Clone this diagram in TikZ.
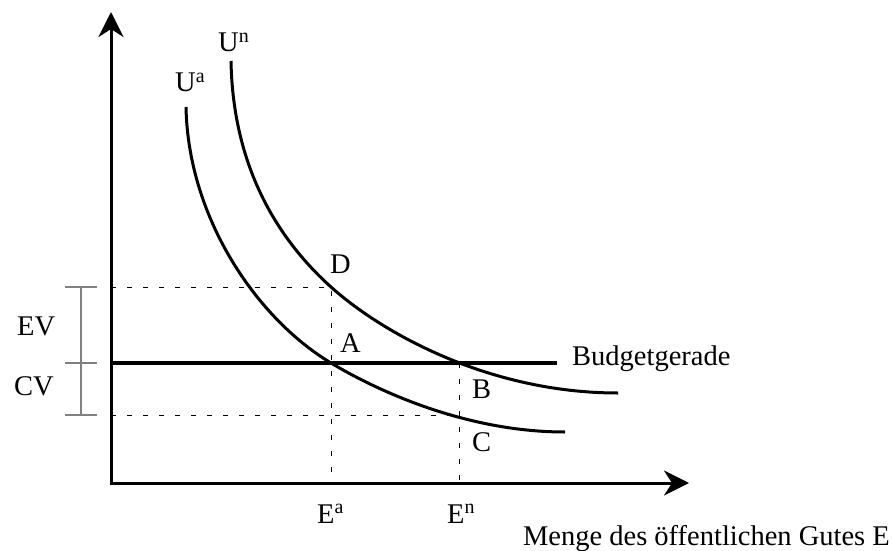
\documentclass[tikz,border=0pt]{standalone}
\usepackage{fontspec}
\setmainfont{Liberation Serif}
\usetikzlibrary{arrows.meta}
\begin{document}
\begin{tikzpicture}[x=1pt,y=-1pt,
    font=\fontsize{28.5}{34}\selectfont,
    lbl/.style={inner sep=0pt,anchor=base west},
    axisline/.style={line width=3pt,arrows={Stealth[length=25pt,width=25pt,inset=8pt]-Stealth[length=25pt,width=25pt,inset=8pt]}},
    icurve/.style={line width=3pt},
    budget/.style={line width=4pt},
    guide/.style={line width=0.9pt,dash pattern=on 5pt off 11pt},
    evcv/.style={line width=1.3pt,gray}]
    \useasboundingbox (0,0) rectangle (892,551);

      \coordinate (O) at (111,483);
      \coordinate (Ytop) at (111,12);
      \coordinate (Xend) at (689,483);
      \coordinate (D) at (331,287);
      \coordinate (A) at (331,363);
      \coordinate (B) at (459,363);
      \coordinate (C) at (459,415);
      \coordinate (Br) at (557,363);
      \coordinate (EVt) at (81,287);
      \coordinate (EVm) at (81,363);
      \coordinate (EVb) at (81,415);
      \coordinate (UaS) at (186,107);
      \coordinate (UaE) at (565,432);
      \coordinate (UnS) at (231,61);
      \coordinate (UnE) at (618,393);

      % dashed guides
      \draw[guide] (D -| O) -- (D) -- (D |- O);
      \draw[guide] (C -| O) -- (C);
      \draw[guide] (B) -- (B |- O);

      % axes and budget line
      \draw[axisline] (Ytop) -- (O) -- (Xend);
      \draw[budget] (A -| O) -- (Br);

      % indifference curves
      \draw[icurve] (UaS) .. controls (188,217) and (256,318) .. (A)
                          .. controls (376,390) and (465,432) .. (UaE);
      \draw[icurve] (UnS) .. controls (233,171) and (281,242) .. (D)
                          .. controls (381,332) and (488,393) .. (UnE);

      % EV / CV bracket
      \draw[evcv] (EVt) -- (EVb);
      \foreach \p in {EVt,EVm,EVb}
        \draw[evcv] ([xshift=-16pt]\p) -- ([xshift=16pt]\p);

      \node[lbl] (Ua) at (175,92) {U\textsuperscript{a}};
      \node[lbl] (Un) at (218,52) {U\textsuperscript{n}};
      \node[lbl] (lD) at (330,273) {D};
      \node[lbl] (lA) at (340,352) {A};
      \node[lbl] (lB) at (472,398) {B};
      \node[lbl] (lC) at (472,451) {C};
      \node[lbl] (Ea) at (317,523) {E\textsuperscript{a}};
      \node[lbl] (En) at (447,523) {E\textsuperscript{n}};
      \node[lbl] (EV) at (17,335) {EV};
      \node[lbl] (CV) at (14,395) {CV};
      \node[lbl] (bg) at (572,365) {Budgetgerade};
      \node[lbl,anchor=base east] (xlab) at (890,545) {Menge des öffentlichen Gutes E};
    \end{tikzpicture}
\end{document}
